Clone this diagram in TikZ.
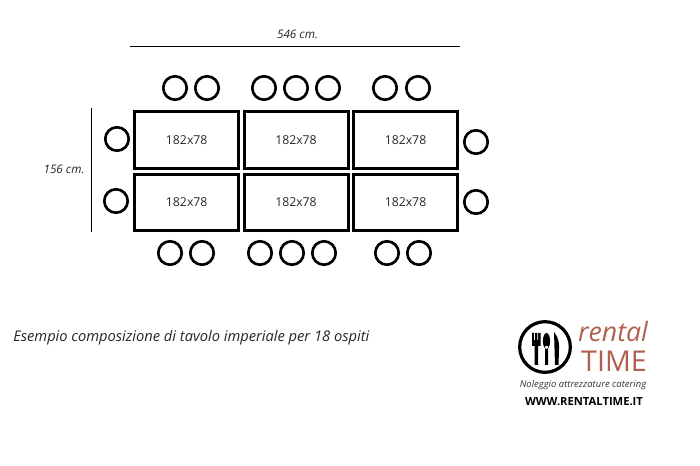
\documentclass[tikz,border=0pt]{standalone}
\usepackage{fontspec}
\setmainfont{Open Sans}
\definecolor{logored}{HTML}{B0604E}
\tikzset{
    tablebox/.style={draw, line width=2.25pt, minimum width=78pt, minimum height=42.4pt, inner sep=0pt, font=\fontsize{9.2pt}{11pt}\selectfont, text=black!85},
    chair/.style={draw, circle, line width=2pt, minimum size=17.6pt, inner sep=0pt},
    dimlabel/.style={font=\itshape\fontsize{8.8pt}{10pt}\selectfont, text=black!85},
    logotext/.style={font=\fontsize{#1}{#1}\selectfont, text=logored}
}
\begin{document}
\begin{tikzpicture}[x=0.75pt, y=-0.75pt]
    \useasboundingbox (0, 0) rectangle (700, 466);

    % tables
    \foreach \name/\xpos in {a/186.7, b/296, c/405.5} {
        \node[tablebox] (table\name1) at (\xpos, 140) {182x78};
        \node[tablebox] (table\name2) at (\xpos, 202.4) {182x78};
    }

    % chairs
    \foreach \xpos [count=\i] in {175, 207, 264, 296, 328, 385, 418}
        \node[chair] (top\i) at (\xpos, 88) {};
    \foreach \xpos [count=\i] in {170, 202, 260, 292, 324, 387, 419}
        \node[chair] (bottom\i) at (\xpos, 253) {};
    \node[chair] (left1) at (117, 139) {};
    \node[chair] (left2) at (116, 201) {};
    \node[chair] (right1) at (476, 142) {};
    \node[chair] (right2) at (476, 202) {};

    % measures
    \coordinate (widthstart) at (130, 46.5);
    \coordinate (widthend) at (460, 46.5);
    \coordinate (heightstart) at (91.5, 108);
    \coordinate (heightend) at (91.5, 232);
    \draw[line width=0.7pt] (widthstart) to (widthend);
    \draw[line width=0.7pt] (heightstart) to (heightend);
    \node[dimlabel] (widthlabel) at (297.5, 34) {546 cm.};
    \node[dimlabel] (heightlabel) at (64, 169.5) {156 cm.};

    \node[font=\itshape\fontsize{11pt}{13pt}\selectfont, text=black!85, anchor=west, inner sep=0pt] (caption) at (13, 338) {Esempio composizione di tavolo imperiale per 18 ospiti};

    % logo
    \node[draw, circle, line width=2.4pt, minimum size=38pt, inner sep=0pt] (logoring) at (545, 347) {};
    \fill (532, 333) rectangle (540.5, 346) (534.5, 346) rectangle (538, 365);
    \fill[white] (534.2, 333) rectangle (534.9, 340) (537.4, 333) rectangle (538.1, 340);
    \fill (546.5, 341) ellipse (3.6 and 8) (545, 346) rectangle (548, 365);
    \fill (554, 332) .. controls (559, 337) and (559.5, 346) .. (559, 350) -- (558.5, 365) -- (555, 365) -- cycle;

    \node[font=\itshape\fontsize{20pt}{20pt}\selectfont, text=logored, inner sep=0pt] (logorental) at (613, 332) {rental};
    \node[logotext=21.5pt, inner sep=0pt] (logotime) at (614, 361) {TIME};
    \node[font=\itshape\fontsize{7.1pt}{8pt}\selectfont, text=black!80, inner sep=0pt] (logoslogan) at (583, 385) {Noleggio attrezzature catering};
    \node[font=\bfseries\fontsize{8.4pt}{10pt}\selectfont, inner sep=0pt] (logoweb) at (584, 402) {WWW.RENTALTIME.IT};
\end{tikzpicture}
\end{document}
